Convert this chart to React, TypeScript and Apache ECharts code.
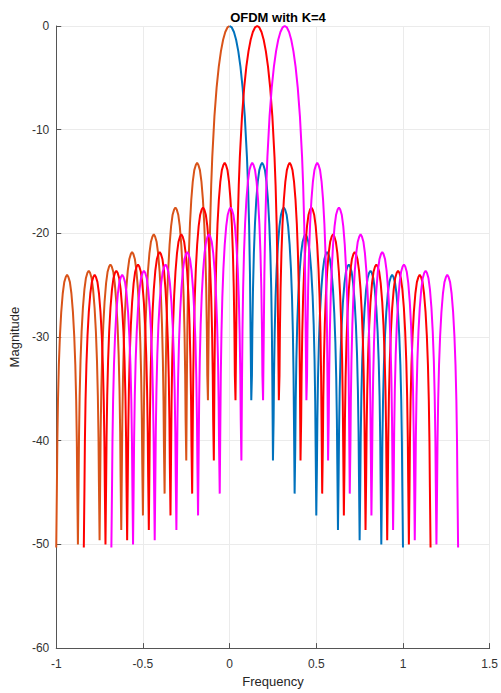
import React, { useEffect, useRef } from "react";
import * as echarts from "echarts";

const TITLE = "OFDM with K=4";
const X_NAME = "Frequency";
const Y_NAME = "Magnitude";

const X_MIN = -1;
const X_MAX = 1.5;
const X_STEP = 0.5;
const Y_MIN = -60;
const Y_MAX = 0;
const Y_STEP = 10;

// Four traces as they appear: orange (left half of carrier at 0), blue (right half), red, magenta
const TRACE_NAMES = ["carrier 0 (left)", "carrier 0 (right)", "carrier 1", "carrier 2"];
const TRACE_CENTERS = [0, 0, 0.159, 0.318];
const TRACE_SIDES = ["left", "right", "both", "both"];
const TRACE_COLORS = ["#D95319", "#0072BD", "#FF0000", "#FF00FF"];

const NULL_SPACING = 0.125;
const NULL_DEPTHS = [-36.1, -41.9, -45.1, -47.2, -48.6, -49.6, -50.0, -50.3]; // k = 1..8
const SIDELOBE_PEAKS = [-13.2, -17.5, -20.1, -21.8, -23.0, -23.6, -24.0]; // j = 1..7
const MAIN_LOBE_U = [0, 0.1, 0.2, 0.3, 0.4, 0.5, 0.6, 0.7, 0.8, 0.85, 0.9, 0.94, 0.97];
const MAIN_LOBE_DB = [0, -0.14, -0.58, -1.33, -2.42, -3.92, -5.94, -8.69, -12.62, -15.39, -19.23, -23.95, -30.2];
const SIDE_LOBE_T = [0.03, 0.05, 0.08, 0.12, 0.17, 0.23, 0.3, 0.37, 0.44, 0.5, 0.56, 0.63, 0.7, 0.77, 0.83, 0.88, 0.92, 0.95, 0.97];
const SIDE_LOBE_DB = [-20.5, -16.1, -12.1, -8.7, -5.9, -3.6, -1.8, -0.7, -0.2, 0, -0.2, -0.7, -1.8, -3.6, -5.9, -8.7, -12.1, -16.1, -20.5];

function buildTrace(center: number, side: string): number[][] {
  const d = NULL_SPACING;
  const n = NULL_DEPTHS.length;
  const pts: number[][] = [];
  if (side !== "right") {
    for (let k = n; k >= 2; k--) {
      pts.push([center - k * d, NULL_DEPTHS[k - 1]]);
      const peak = SIDELOBE_PEAKS[k - 2];
      SIDE_LOBE_T.forEach((t, i) => pts.push([center - k * d + t * d, peak + SIDE_LOBE_DB[i]]));
    }
    pts.push([center - d, NULL_DEPTHS[0]]);
    for (let i = MAIN_LOBE_U.length - 1; i >= 1; i--) {
      pts.push([center - MAIN_LOBE_U[i] * d, MAIN_LOBE_DB[i]]);
    }
  }
  pts.push([center, MAIN_LOBE_DB[0]]);
  if (side !== "left") {
    for (let i = 1; i < MAIN_LOBE_U.length; i++) {
      pts.push([center + MAIN_LOBE_U[i] * d, MAIN_LOBE_DB[i]]);
    }
    pts.push([center + d, NULL_DEPTHS[0]]);
    for (let k = 1; k <= n - 1; k++) {
      const peak = SIDELOBE_PEAKS[k - 1];
      SIDE_LOBE_T.forEach((t, i) => pts.push([center + k * d + t * d, peak + SIDE_LOBE_DB[i]]));
      pts.push([center + (k + 1) * d, NULL_DEPTHS[k]]);
    }
  }
  return pts;
}

const FONT = "Liberation Sans, Arial, Helvetica, sans-serif";

export default function App() {
  const ref = useRef<HTMLDivElement>(null);
  useEffect(() => {
    if (!ref.current) return;
    const chart = echarts.init(ref.current, null, { renderer: "svg" });
    const series = TRACE_NAMES.map((name, idx) => ({
      name,
      type: "line",
      data: buildTrace(TRACE_CENTERS[idx], TRACE_SIDES[idx]),
      showSymbol: false,
      symbol: "none",
      silent: true,
      lineStyle: { color: TRACE_COLORS[idx], width: 2 },
      itemStyle: { color: TRACE_COLORS[idx] },
      emphasis: { disabled: true },
    }));
    chart.setOption({
      animation: false,
      title: {
        text: TITLE,
        left: 273,
        top: 6,
        textAlign: "center",
        textStyle: { fontSize: 13, fontWeight: "bold", color: "#000", fontFamily: FONT },
      },
      grid: { left: 52, right: 7, top: 26, bottom: 41, containLabel: false },
      xAxis: {
        type: "value",
        min: X_MIN,
        max: X_MAX,
        interval: X_STEP,
        name: X_NAME,
        nameLocation: "middle",
        nameGap: 25,
        nameTextStyle: { fontSize: 13, color: "#262626", fontFamily: FONT },
        axisLine: { show: true, onZero: false, lineStyle: { color: "#555", width: 1 } },
        axisTick: { show: true, inside: true, length: 5, lineStyle: { color: "#555" } },
        axisLabel: { fontSize: 12, color: "#333", margin: 10, fontFamily: FONT },
        splitLine: { show: true, lineStyle: { color: "#ebebeb", width: 1 } },
      },
      yAxis: {
        type: "value",
        min: Y_MIN,
        max: Y_MAX,
        interval: Y_STEP,
        name: Y_NAME,
        nameLocation: "middle",
        nameGap: 29,
        nameTextStyle: { fontSize: 13, color: "#262626", fontFamily: FONT },
        axisLine: { show: true, onZero: false, lineStyle: { color: "#555", width: 1 } },
        axisTick: { show: true, inside: true, length: 5, lineStyle: { color: "#555" } },
        axisLabel: { fontSize: 12, color: "#333", margin: 7, fontFamily: FONT },
        splitLine: { show: true, lineStyle: { color: "#ebebeb", width: 1 } },
      },
      series,
    });
    return () => chart.dispose();
  }, []);
  return (
    <div
      ref={ref}
      style={{ position: "absolute", left: 0, top: 0, width: 501, height: 693, background: "#fff" }}
    />
  );
}
